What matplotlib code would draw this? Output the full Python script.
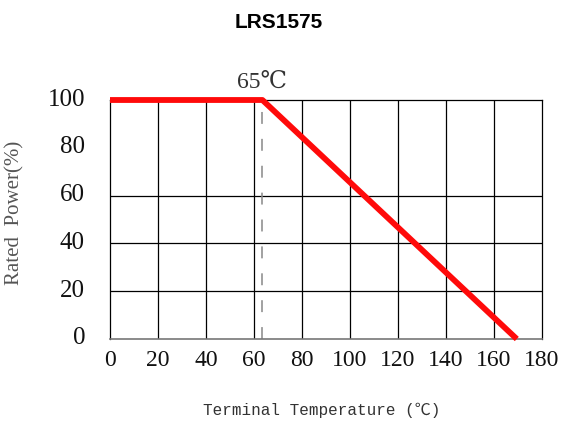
import matplotlib.pyplot as plt
import matplotlib.transforms as mtransforms

# derating curve
temps = [0, 63.5, 169.5]
power = [100, 100, 0]
knee_temp = 63.5
knee_label = "65℃"

x_ticks = [0, 20, 40, 60, 80, 100, 120, 140, 160, 180]
y_ticks = [0, 20, 40, 60, 80, 100]
v_grid = [20, 40, 60, 80, 100, 120, 140, 160]
h_grid = [20, 40, 60]

serif = ["Liberation Serif", "DejaVu Serif", "Noto Sans CJK SC"]
mono = ["Liberation Mono", "DejaVu Sans Mono", "Noto Sans CJK SC"]

fig = plt.figure(figsize=(5.73, 4.21), dpi=100)
ax = fig.add_axes([110 / 573, 82 / 421, 432 / 573, 239 / 421])

for v in v_grid:
    ax.axvline(v, color="black", lw=0.9, zorder=1)
for h in h_grid:
    ax.axhline(h, color="black", lw=0.9, zorder=1)

ax.plot([knee_temp, knee_temp], [0, 100], color="#888888", lw=1.1,
        linestyle=(0, (7.8, 9.8)), zorder=2)
ax.plot(temps, power, color="#ff0a0a", lw=4.2, solid_capstyle="butt",
        clip_on=False, zorder=3)

ax.set_xlim(0, 180)
ax.set_ylim(0, 100)
ax.set_xticks(x_ticks)
ax.set_yticks(y_ticks)
ax.set_xticklabels([str(t) for t in x_ticks], family=serif, fontsize=17, color="#111111")
ax.set_yticklabels([str(t) for t in y_ticks], family=serif, fontsize=18, color="#111111")
ax.tick_params(length=0)
ax.tick_params(axis="x", pad=8)
ax.tick_params(axis="y", pad=18)

up = mtransforms.ScaledTranslation(0, 3 / 100, fig.dpi_scale_trans)
for lab in ax.get_yticklabels():
    lab.set_transform(lab.get_transform() + up)

for side in ["left", "right", "top"]:
    ax.spines[side].set_color("black")
    ax.spines[side].set_linewidth(0.9)
ax.spines["bottom"].set_color("#777777")
ax.spines["bottom"].set_linewidth(1.2)

ax.text(knee_temp, 103, knee_label, ha="center", va="bottom", family=serif,
        fontsize=17, color="#333333")

ax.set_xlabel("Terminal Temperature (℃)", family=mono, fontsize=11.5,
              color="#333333")
ax.xaxis.set_label_coords(0.49, -0.265)
ax.set_ylabel("Rated  Power(%)", family=serif, fontsize=15, color="#555555")
ax.yaxis.set_label_coords(-0.199, 0.527)

fig.text(279 / 573, 1 - 22 / 421, "LRS1575", ha="center", va="center",
         family="Liberation Sans", fontweight="bold", fontsize=15)

fig.savefig("out.png", dpi=100)
